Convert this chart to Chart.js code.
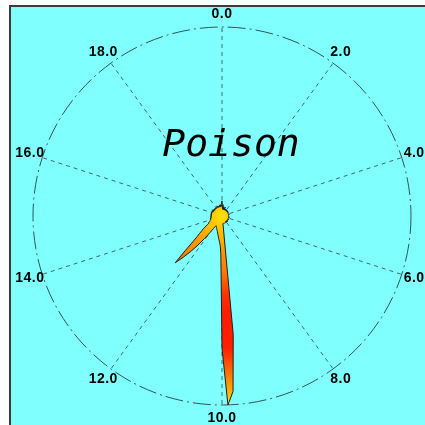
<!DOCTYPE html>
<html>
<head>
<meta charset="utf-8">
<script src="https://cdn.jsdelivr.net/npm/chart.js@4"></script>
<style>
    html, body { margin: 0; padding: 0; background: #fff; overflow: hidden; }
    body { width: 425px; height: 425px; position: relative; }
    #frame {
        position: absolute; left: 9px; top: 5px; width: 430px; height: 430px;
        border-left: 2px solid #3c3c3c; border-top: 2px solid #3c3c3c;
        background: #80ffff;
    }
    #chart { position: absolute; left: 0; top: 0; }
</style>
</head>
<body>
<div id="frame"></div>
<canvas id="chart" width="425" height="425"></canvas>
<script>
// =======================================
// DATA — polar plot, 0..20 h round the dial, 0.1 h per step
// =======================================
const hourLabels = ["0.0", "2.0", "4.0", "6.0", "8.0", "10.0", "12.0", "14.0", "16.0", "18.0"];
const stepsPerLabel = 20;   // 2.0 h between labels, 0.1 h per category
const title = "Poison";

// one row per 2 h (20 values each)
const poison = [
    8, 5, 4, 6, 3.5, 4, 5, 3.5, 4, 4, 3.5, 5, 3.5, 4, 3.5, 4, 3.5, 3.5, 4, 3.5,
    3.5, 4, 3.5, 3.5, 4, 3.5, 3.5, 3.5, 4, 3.5, 3.5, 3.5, 3.5, 4, 3.5, 3.5, 3.5, 3.5, 3.5, 3.5,
    3.5, 3.5, 3.5, 4, 3.5, 3.5, 3.5, 3.5, 3.5, 3.5, 3.5, 3.5, 3.5, 3.5, 3.5, 4, 3.5, 3.5, 3.5, 3.5,
    3.5, 3.5, 3.5, 3.5, 3.5, 4, 3.5, 3.5, 3.5, 3.5, 3.5, 3.5, 4, 3.5, 3.5, 4, 3.5, 4, 4, 3.5,
    4, 4, 3.5, 4, 4, 4, 4, 4, 4, 4, 4, 4, 4, 4, 4, 4, 4, 63, 93, 100,
    70, 20, 15.5, 14, 12.7, 11.7, 10.8, 10, 9.3, 8.7, 8.3, 7.9, 7.5, 7.1, 6.8, 6.5, 6.2, 6, 6.5, 8,
    11, 15, 20, 25, 30, 35, 26.5, 20.5, 17, 15, 13, 12, 10, 9, 8, 8, 7.5, 7, 7, 6.5,
    6.5, 6, 6, 6.5, 6, 6, 6, 5.5, 6, 6, 6, 5.5, 6, 6, 5.5, 6, 5.5, 6, 5.5, 5.5,
    5.5, 6, 5.5, 5.5, 6, 5, 5.5, 5.5, 6, 5, 5.5, 5, 5.5, 5, 5.5, 5, 5, 5.5, 5, 5,
    5, 5.5, 5, 5, 5, 6, 5, 5, 5, 5.5, 5, 5, 5, 6, 5, 5, 6, 5, 6, 7
];

// categories: every 0.1 h, only every 2.0 h carries a label
const categories = [];
hourLabels.forEach(lbl => {
    for (let k = 0; k < stepsPerLabel; k++) categories.push(k === 0 ? lbl : "");
});

// =======================================
// HELPERS
// =======================================
function isLabelIndex(i) {
    return i % stepsPerLabel === 0;
}

// radial colour ramp: yellow core, red middle, yellow tip
function fillGradient(context) {
    const chart = context.chart;
    const s = chart.scales.r;
    if (!s || !s.drawingArea) return "#ff8800";
    const g = chart.ctx.createRadialGradient(s.xCenter, s.yCenter, 0, s.xCenter, s.yCenter, s.drawingArea);
    g.addColorStop(0.00, "#ffe000");
    g.addColorStop(0.08, "#ffc000");
    g.addColorStop(0.18, "#ff9a00");
    g.addColorStop(0.30, "#ff7800");
    g.addColorStop(0.42, "#ff3000");
    g.addColorStop(0.52, "#ff1c00");
    g.addColorStop(0.70, "#ff2000");
    g.addColorStop(0.82, "#ff6a00");
    g.addColorStop(0.92, "#ffa800");
    g.addColorStop(1.00, "#ffe000");
    return g;
}

// hour labels centred just outside the ring, placed by the scale
const hourLabelPlugin = {
    id: "hourLabels",
    afterDraw(chart) {
        const s = chart.scales.r;
        const ctx = chart.ctx;
        ctx.save();
        ctx.font = "bold 14px 'Liberation Sans'";
        ctx.letterSpacing = "0.5px";
        ctx.fillStyle = "#000";
        ctx.textAlign = "center";
        ctx.textBaseline = "middle";
        hourLabels.forEach((lbl, k) => {
            const p = s.getPointPosition(k * stepsPerLabel, s.drawingArea + 13);
            ctx.fillText(lbl, p.x, p.y);
        });
        ctx.restore();
    }
};

const titlePlugin = {
    id: "innerTitle",
    afterDatasetsDraw(chart) {
        const s = chart.scales.r;
        const ctx = chart.ctx;
        ctx.save();
        ctx.font = "oblique 38px 'DejaVu Sans Mono'";
        ctx.fillStyle = "#000";
        ctx.textAlign = "center";
        ctx.textBaseline = "alphabetic";
        ctx.fillText(title, s.xCenter + 9, s.yCenter - 60);
        ctx.restore();
    }
};

// =======================================
// CHART
// =======================================
new Chart(document.getElementById("chart"), {
    type: "radar",
    data: {
        labels: categories,
        datasets: [{
            data: poison,
            backgroundColor: fillGradient,
            borderColor: "#1e1e1e",
            borderWidth: 1,
            pointRadius: 0,
            tension: 0,
            fill: true
        }]
    },
    options: {
        responsive: false,
        animation: false,
        layout: { padding: { left: 33, right: 14, top: 27, bottom: 20 } },
        plugins: { legend: { display: false }, tooltip: { enabled: false } },
        scales: {
            r: {
                min: 0,
                max: 100,
                ticks: { display: false, stepSize: 100 },
                grid: { circular: true, color: "#2f5555", lineWidth: 1 },
                border: { dash: [18, 4, 2, 4] },
                angleLines: {
                    color: "#3a6a6a",
                    lineWidth: ctx => isLabelIndex(ctx.index) ? 1 : 0,
                    borderDash: [4, 4]
                },
                pointLabels: { display: false }
            }
        }
    },
    plugins: [titlePlugin, hourLabelPlugin]
});
</script>
</body>
</html>
